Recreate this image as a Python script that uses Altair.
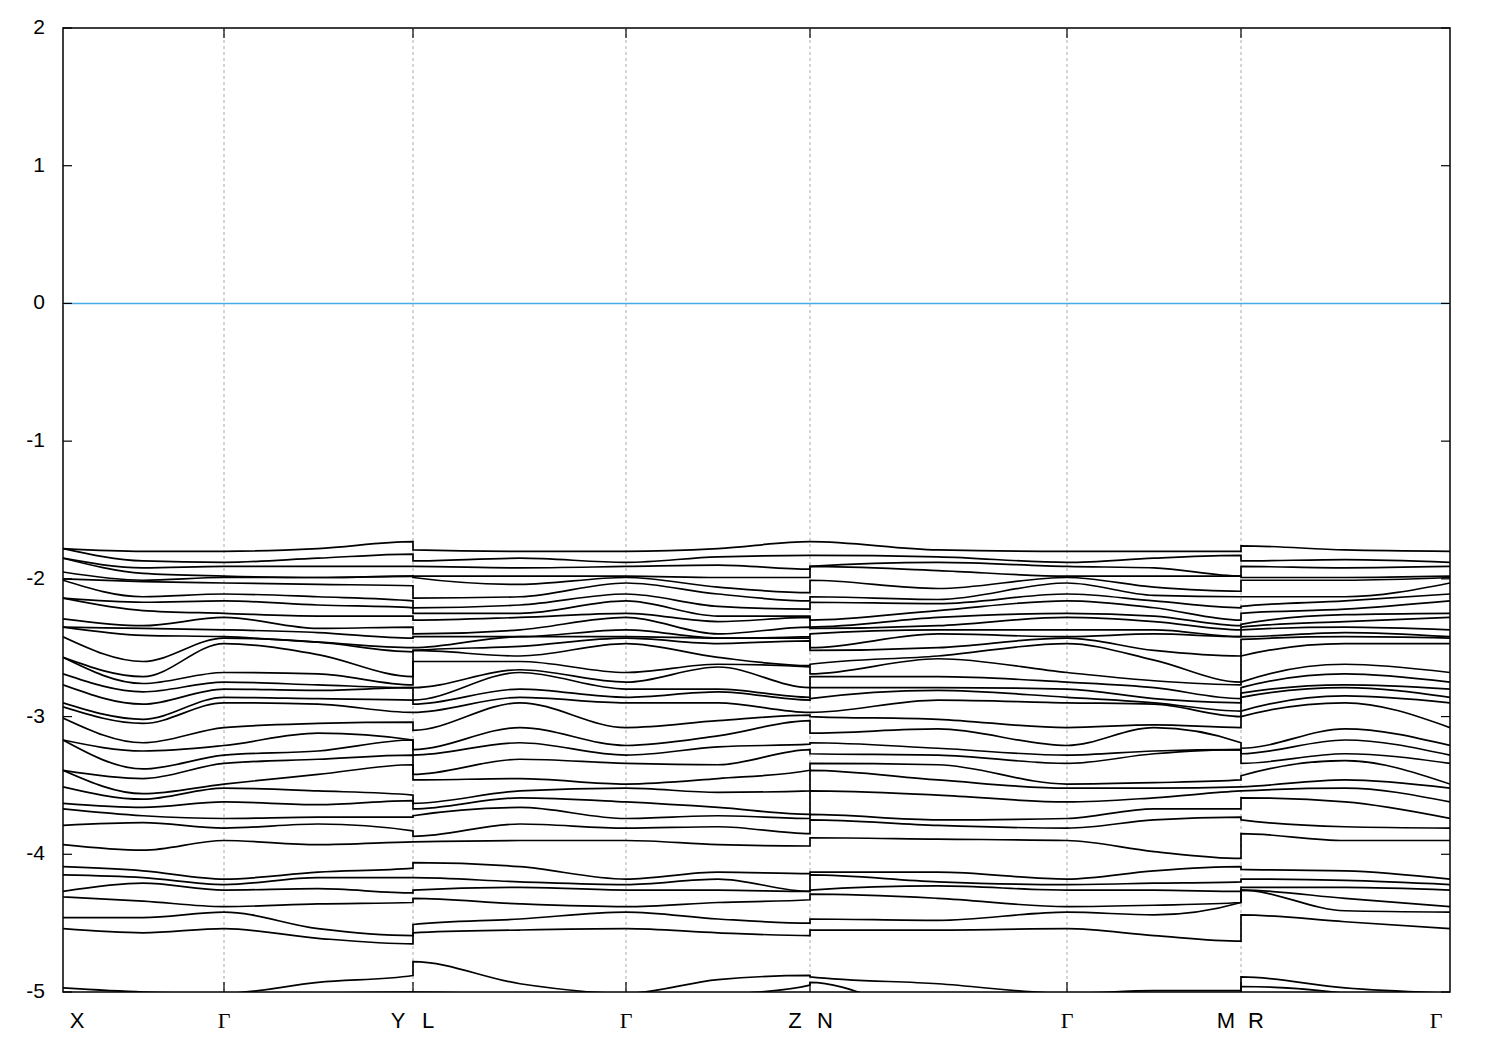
import altair as alt
import pandas as pd

# positions along the k-path (arbitrary units)
k_X, k_G1, k_YL, k_G2, k_ZN, k_G3, k_MR, k_G4 = 0.0, 0.161, 0.350, 0.563, 0.747, 1.004, 1.178, 1.387
k_XG, k_GY, k_LG, k_GZ, k_NG, k_GM, k_RG = 0.080, 0.255, 0.457, 0.655, 0.875, 1.091, 1.282

# band energies (eV) read at sampled k points (37 bands each; lowest ones fall below -5)
E_X = [-1.78, -1.78, -1.85, -1.85, -1.95, -2.00, -2.01, -2.14, -2.14, -2.29, -2.35, -2.35, -2.42,
       -2.57, -2.57, -2.69, -2.77, -2.90, -2.93, -3.01, -3.17, -3.17, -3.39, -3.39, -3.51, -3.63,
       -3.67, -3.79, -3.93, -4.09, -4.15, -4.27, -4.31, -4.46, -4.54, -4.97, -5.15]
E_XG = [-1.80, -1.87, -1.92, -1.96, -2.01, -2.02, -2.13, -2.17, -2.23, -2.34, -2.36, -2.41, -2.60,
        -2.71, -2.76, -2.82, -2.91, -3.02, -3.05, -3.19, -3.25, -3.38, -3.45, -3.56, -3.60, -3.66,
        -3.72, -3.77, -3.97, -4.12, -4.17, -4.21, -4.34, -4.46, -4.57, -5.00, -5.15]
E_G = [-1.80, -1.88, -1.91, -1.98, -1.99, -2.03, -2.11, -2.16, -2.25, -2.28, -2.37, -2.42, -2.43,
       -2.47, -2.68, -2.75, -2.80, -2.86, -2.90, -3.08, -3.21, -3.28, -3.34, -3.49, -3.52, -3.62,
       -3.74, -3.81, -3.90, -4.18, -4.22, -4.26, -4.38, -4.42, -4.54, -5.01, -5.15]
E_GY = [-1.78, -1.85, -1.91, -1.99, -1.99, -2.04, -2.13, -2.19, -2.27, -2.36, -2.39, -2.46, -2.46,
        -2.55, -2.69, -2.77, -2.81, -2.87, -2.91, -3.05, -3.12, -3.25, -3.31, -3.42, -3.54, -3.64,
        -3.73, -3.78, -3.93, -4.13, -4.17, -4.25, -4.36, -4.54, -4.61, -4.93, -5.01]
E_Y = [-1.73, -1.82, -1.91, -1.98, -1.98, -2.05, -2.16, -2.21, -2.27, -2.35, -2.43, -2.50, -2.53,
       -2.71, -2.77, -2.79, -2.79, -2.88, -2.97, -3.04, -3.17, -3.17, -3.28, -3.35, -3.57, -3.61,
       -3.73, -3.83, -3.91, -4.10, -4.17, -4.28, -4.35, -4.59, -4.65, -4.88, -5.00]
E_L = [-1.79, -1.87, -1.91, -1.98, -1.99, -2.14, -2.21, -2.25, -2.30, -2.40, -2.42, -2.50, -2.52,
       -2.52, -2.60, -2.79, -2.88, -2.91, -2.97, -3.10, -3.24, -3.28, -3.42, -3.46, -3.63, -3.67,
       -3.72, -3.87, -3.91, -4.06, -4.17, -4.26, -4.32, -4.51, -4.57, -4.78, -5.00]
E_LG = [-1.80, -1.85, -1.92, -1.98, -2.04, -2.13, -2.19, -2.25, -2.28, -2.37, -2.42, -2.42, -2.49,
        -2.56, -2.60, -2.66, -2.68, -2.80, -2.86, -2.90, -3.08, -3.19, -3.31, -3.45, -3.54, -3.59,
        -3.66, -3.78, -3.90, -4.09, -4.20, -4.24, -4.36, -4.47, -4.55, -4.94, -5.03]
E_GZ = [-1.78, -1.84, -1.90, -1.99, -2.06, -2.11, -2.20, -2.27, -2.31, -2.40, -2.43, -2.43, -2.47,
        -2.57, -2.62, -2.64, -2.80, -2.82, -2.90, -3.03, -3.14, -3.22, -3.35, -3.45, -3.55, -3.66,
        -3.72, -3.80, -3.93, -4.13, -4.18, -4.26, -4.35, -4.47, -4.57, -4.91, -5.03]
E_Z = [-1.73, -1.83, -1.93, -1.99, -2.10, -2.16, -2.22, -2.27, -2.28, -2.35, -2.42, -2.43,
       -2.45, -2.63, -2.64, -2.79, -2.86, -2.88, -2.97, -2.99, -3.03, -3.20, -3.24, -3.39, -3.54,
       -3.71, -3.74, -3.85, -3.94, -4.14, -4.27, -4.27, -4.33, -4.50, -4.59, -4.88, -4.95]
E_N = [-1.73, -1.83, -1.91, -1.91, -2.01, -2.13, -2.17, -2.30, -2.35, -2.36, -2.40, -2.50, -2.52,
       -2.62, -2.69, -2.71, -2.79, -2.87, -2.97, -3.00, -3.12, -3.19, -3.27, -3.34, -3.39, -3.54,
       -3.71, -3.75, -3.88, -4.13, -4.15, -4.26, -4.29, -4.47, -4.55, -4.89, -4.93]
E_NG = [-1.79, -1.84, -1.88, -1.94, -2.07, -2.15, -2.18, -2.23, -2.28, -2.34, -2.37, -2.40, -2.50,
        -2.56, -2.58, -2.71, -2.79, -2.81, -2.88, -3.02, -3.09, -3.23, -3.28, -3.35, -3.46, -3.57,
        -3.75, -3.79, -3.89, -4.13, -4.20, -4.23, -4.32, -4.48, -4.55, -4.94, -5.15]
E_GM = [-1.80, -1.85, -1.92, -1.98, -2.06, -2.12, -2.16, -2.21, -2.27, -2.31, -2.37, -2.40, -2.52,
        -2.59, -2.74, -2.79, -2.87, -2.90, -2.91, -3.06, -3.08, -3.25, -3.27, -3.48, -3.52, -3.59,
        -3.67, -3.75, -3.98, -4.12, -4.21, -4.26, -4.37, -4.44, -4.59, -4.99, -5.15]
E_M = [-1.80, -1.83, -1.98, -1.98, -2.09, -2.13, -2.21, -2.30, -2.34, -2.37, -2.42, -2.42, -2.56,
       -2.75, -2.77, -2.87, -2.90, -2.96, -3.00, -3.08, -3.19, -3.24, -3.24, -3.46, -3.51, -3.54,
       -3.67, -3.73, -4.03, -4.09, -4.20, -4.27, -4.35, -4.35, -4.63, -4.99, -5.15]
E_R = [-1.76, -1.87, -1.91, -1.99, -2.01, -2.13, -2.20, -2.25, -2.33, -2.35, -2.37, -2.42, -2.44,
       -2.56, -2.75, -2.79, -2.83, -2.86, -2.96, -3.00, -3.23, -3.27, -3.34, -3.43, -3.51, -3.54,
       -3.59, -3.75, -3.85, -4.11, -4.18, -4.24, -4.26, -4.26, -4.44, -4.89, -4.96]
E_RG = [-1.79, -1.86, -1.92, -1.99, -2.01, -2.13, -2.16, -2.22, -2.26, -2.31, -2.35, -2.39, -2.42,
        -2.47, -2.62, -2.69, -2.77, -2.79, -2.85, -2.90, -3.09, -3.17, -3.27, -3.32, -3.46, -3.52,
        -3.62, -3.80, -3.90, -4.12, -4.19, -4.24, -4.32, -4.41, -4.49, -4.97, -5.01]

columns = [
    (k_X, E_X), (k_XG, E_XG), (k_G1, E_G), (k_GY, E_GY), (k_YL, E_Y),
    (k_YL, E_L), (k_LG, E_LG), (k_G2, E_G), (k_GZ, E_GZ), (k_ZN, E_Z),
    (k_ZN, E_N), (k_NG, E_NG), (k_G3, E_G), (k_GM, E_GM), (k_MR, E_M),
    (k_MR, E_R), (k_RG, E_RG), (k_G4, E_G),
]

rows = []
for ci, (k, vals) in enumerate(columns):
    for b, e in enumerate(sorted(vals)):
        rows.append({"band": b, "k": k, "E": e, "ord": ci})
bands = pd.DataFrame(rows)

label_names = ["X", "Γ", "Y", "L", "Γ", "Z", "N", "Γ", "M", "R", "Γ"]
label_k = [k_X, k_G1, k_YL, k_YL, k_G2, k_ZN, k_ZN, k_G3, k_MR, k_MR, k_G4]
label_shift = [14, 0, -15, 15, 0, -15, 15, 0, -15, 15, -14]

vline_k = [k_G1, k_YL, k_G2, k_ZN, k_G3, k_MR]
ytick_vals = [-5, -4, -3, -2, -1, 0, 1, 2]
ytick_text = ["-5", "-4", "-3", "-2", "-1", "0", "1", "2"]

W, H = 1387, 964
xs = alt.Scale(domain=[k_X, k_G4], nice=False, zero=False)
ys = alt.Scale(domain=[-5, 2], nice=False, zero=False)

band_lines = alt.Chart(bands).mark_line(color="black", strokeWidth=1.7, clip=True,
                                        interpolate="monotone").encode(
    x=alt.X("k:Q", scale=xs, axis=None),
    y=alt.Y("E:Q", scale=ys, axis=None),
    detail="band:N",
    order="ord:Q",
)

zero = alt.Chart(pd.DataFrame({"E": [0]})).mark_rule(color="#45aae6", strokeWidth=1.5).encode(
    y=alt.Y("E:Q", scale=ys, axis=None))

vdf = pd.DataFrame({"k": vline_k})
dashed = alt.Chart(vdf).mark_rule(color="#aaaaaa", strokeWidth=1, strokeDash=[3, 3]).encode(
    x=alt.X("k:Q", scale=xs, axis=None))

ydf = pd.DataFrame({"E": ytick_vals, "t": ytick_text})
ytick_l = alt.Chart(ydf).mark_rule(color="black", strokeWidth=1.2).encode(
    y=alt.Y("E:Q", scale=ys, axis=None), x=alt.value(0), x2=alt.value(9))
ytick_r = alt.Chart(ydf).mark_rule(color="black", strokeWidth=1.2).encode(
    y=alt.Y("E:Q", scale=ys, axis=None), x=alt.value(W - 9), x2=alt.value(W))
ylabels = alt.Chart(ydf).mark_text(fontSize=21, font="Liberation Sans", color="black",
                                   align="right", baseline="middle").encode(
    y=alt.Y("E:Q", scale=ys, axis=None), x=alt.value(-18), text="t:N")
xtick_b = alt.Chart(vdf).mark_rule(color="black", strokeWidth=1.2).encode(
    x=alt.X("k:Q", scale=xs, axis=None), y=alt.value(H - 10), y2=alt.value(H))
xtick_t = alt.Chart(vdf).mark_rule(color="black", strokeWidth=1.2).encode(
    x=alt.X("k:Q", scale=xs, axis=None), y=alt.value(0), y2=alt.value(10))

label_layers = []
for shift in sorted(set(label_shift)):
    for serif in (False, True):
        names = [n for n, s in zip(label_names, label_shift) if s == shift and (n == "Γ") == serif]
        ks = [k for n, k, s in zip(label_names, label_k, label_shift) if s == shift and (n == "Γ") == serif]
        if not names:
            continue
        ldf = pd.DataFrame({"name": names, "k": ks})
        label_layers.append(
            alt.Chart(ldf).mark_text(
                fontSize=22, font="Liberation Serif" if serif else "Liberation Sans",
                color="black", dx=shift, baseline="middle", align="center",
            ).encode(x=alt.X("k:Q", scale=xs, axis=None), y=alt.value(H + 29), text="name:N")
        )

chart = alt.layer(dashed, zero, band_lines, ytick_l, ytick_r, ylabels, xtick_b, xtick_t,
                  *label_layers).properties(
    width=W, height=H,
    autosize=alt.AutoSizeParams(type="none"),
    padding={"left": 55, "top": 20, "right": 40, "bottom": 50},
).configure_view(stroke="black", strokeWidth=1.5)

chart.save("out.html", embed_options={"renderer": "svg", "actions": False})
